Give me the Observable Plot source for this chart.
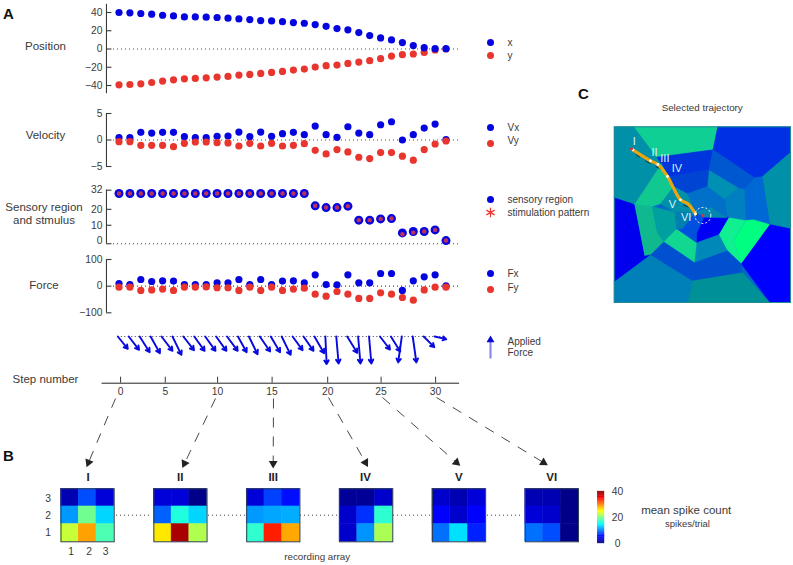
<!DOCTYPE html>
<html><head><meta charset="utf-8">
<script src="https://cdn.jsdelivr.net/npm/d3@7"></script>
<script src="https://cdn.jsdelivr.net/npm/@observablehq/plot@0.6"></script>
<style>
html,body{margin:0;padding:0;background:#fff}
#root{position:relative;width:793px;height:565px;overflow:hidden;font-family:"Liberation Sans",Arial,sans-serif}
</style></head><body><div id="root"></div>
<script>
// ---- Values ----
const posX=[40,39.6,38.9,38.2,37,36.3,35.2,35.2,34.9,34.5,33.8,33,32.3,31.2,30.8,30,29,28.2,26.8,24.9,22.4,21,18,14.7,12.1,9.9,7,3.7,1.5,.4,.4];
const posY=[-39.3,-38.9,-38.2,-36.7,-35.2,-33.8,-32.7,-32.3,-31.6,-30.8,-30.1,-28.6,-27.9,-26.8,-25.7,-24.6,-23.1,-22,-19.8,-18.3,-17.6,-15.8,-14.3,-12.8,-10.6,-7.7,-6.2,-5.5,-3.7,-1.1,0];
const velX=[.44,.44,1.44,1.31,1.44,1.44,.63,.44,.44,.69,.75,1.5,.63,1.5,.69,1.19,1.44,1,2.63,1,.5,2.5,1.31,1,2.88,3.44,0,1,2.25,3,.06];
const velY=[-.31,-.31,-1,-1,-1,-1.25,-.63,-.38,-.38,-.5,-.56,-1.13,-.63,-1.13,-.63,-1.13,-1,-.69,-1.94,-2.63,-1.81,-2.25,-3.25,-3.5,-2.38,-2.38,-3.06,-3.81,-1.81,-.75,-.19];
const region=[29.9,29.9,29.9,29.9,29.9,29.9,29.9,29.9,29.9,29.9,29.9,29.9,29.9,29.9,29.9,29.9,29.9,29.9,22.2,21.1,21.1,22,13.2,13.2,14,14.2,5.2,6.1,6.1,7.1,.4];
const stimulus=[29.9,29.9,29.9,29.9,29.9,29.9,29.9,29.9,29.9,29.9,29.9,29.9,29.9,29.9,29.9,29.9,29.9,29.9,22.2,21.1,21.1,22,13.2,13.2,14,14.2,4.4,5.4,6.1,7.1,.4];
const forceX=[10,6,25,17.5,20,19,6,6,6,12.5,12.5,25,6,25,6,19,20,12.5,42.5,6,5,42.5,12.5,12.5,47.5,47.5,-16,20,35,42.5,1];
const forceY=[-4,-4,-16,-14,-11,-16,-4,-4,-3,-6,-6,-16,-4,-16,-4,-16,-11,-7.5,-30,-37.5,-20,-30,-46,-46,-25,-30,-42.5,-52.5,-14,-4,-4];
const arrowDx=[30,31,30,28,33,27,32,31,31,31,32,26,26,31,28,27,30,30,29,4,7,30,7,7,30,28,-11,11,32,35];
const arrowDy=[37,40,47,50,43,55,41,43,43,43,43,47,53,45,47,55,41,43,50,83,81,49,81,81,39,45,78,78,32,8];
const stepLabels=[0,5,10,15,20,25,30];
const stepTickAt=[0.1,4.2,9,14,19.1,24,29];
const panels=["I","II","III","IV","V","VI"];
// rows: array row 3, 2, 1; columns 1, 2, 3 (spikes/trial)
const heatI  =[2,8,3.5, 11,19.4,13.4, 22.8,28.7,18];
const heatII =[3.5,3.5,.3, 8.8,16.2,13.4, 25.9,38.4,21.9];
const heatIII=[3.5,7.5,5.5, 11,11.5,11.8, 16.9,33.8,28.4];
const heatIV =[1,1,3, 3,6.9,16.8, 3,10.8,21.7];
const heatV  =[3,2,3.5, 5,3,5, 9.4,13.8,6.3];
const heatVI =[2,2,.3, 3.5,3,.3, 9.4,8,.3];
const heats=[heatI,heatII,heatIII,heatIV,heatV,heatVI];
// Sensory map regions: shade + outline
const mapShades=["#0090a8","#10cf94","#0030e4","#0090a8","#0068d4","#0090b4","#0080c0","#0034dc","#0044d4","#0070c8","#0058d0","#0000f4","#10f090","#00ff80","#0000ff","#009098","#0050d0","#0088b8","#0080b8","#0050d0","#0000ee","#10b890","#00a0a0","#10d890","#10c890","#0090a8","#0088b0","#0050e0","#0080b0"];
const mapOutlines=[
[[131,139],[190,139],[258,230],[272,250],[213,340],[192,372],[131,352]],
[[190,139],[441,139],[427,208],[258,230]],
[[441,139],[660,139],[660,215],[575,288],[552,292],[427,208]],
[[660,215],[660,445],[598,432],[575,288]],
[[575,288],[598,432],[548,418],[525,420],[522,325],[552,292]],
[[415,268],[505,322],[462,358],[410,318]],
[[505,322],[522,325],[525,420],[470,412],[462,358]],
[[258,230],[427,208],[415,268],[290,290],[272,250]],
[[290,290],[415,268],[410,318],[350,340],[310,318]],
[[350,340],[410,318],[462,358],[470,412],[420,380],[375,395]],
[[427,208],[552,292],[522,325],[505,322],[415,268]],
[[400,410],[475,410],[445,463],[378,487],[378,458]],
[[475,412],[525,420],[490,480],[512,550],[470,510],[445,463]],
[[525,420],[548,418],[598,432],[512,550],[490,480]],
[[598,432],[660,445],[660,666],[598,666],[512,550]],
[[365,600],[515,575],[598,666],[350,666]],
[[372,545],[470,510],[512,550],[515,575],[365,600]],
[[378,487],[445,463],[470,510],[372,545]],
[[240,522],[365,600],[350,666],[131,666],[131,603]],
[[280,483],[372,545],[365,600],[240,522]],
[[131,352],[192,372],[222,525],[240,522],[131,603]],
[[192,372],[245,378],[260,455],[280,483],[240,522],[222,525]],
[[245,378],[312,395],[318,445],[280,483],[260,455]],
[[318,445],[378,487],[372,545],[280,483]],
[[272,250],[310,318],[270,370],[245,378],[192,372],[213,340]],
[[310,318],[350,340],[375,395],[312,395],[270,370]],
[[420,380],[470,412],[400,410],[375,395]],
[[318,445],[375,395],[400,410],[378,458],[378,487]],
[[312,395],[375,395],[335,445],[318,445]]
];
const trajectory=[[187,208],[240,241],[262,252],[291,288],[310,325],[330,358],[352,370],[375,400]];
const trajectoryMarks=[[187,208],[240,241],[262,252],[291,288],[330,358],[375,400]];
const trajectoryLabels=[["I",191,182],["II",252,215],["III",283,233],["IV",319,265],["V",306,371],["VI",347,410]];

// ---- Layout helper ----
const root=document.getElementById("root");
const W=793,H=565;
const BLUE="#0505e0",RED="#e8352e",INK="#3a3a3a";
function add(opts){
  const svg=Plot.plot(Object.assign({width:W,height:H,marginTop:0,marginBottom:0,marginRight:0,marginLeft:0,
    style:{position:"absolute",left:"0",top:"0",background:"transparent",fontFamily:'"Liberation Sans",Arial,sans-serif',fontSize:"10px",color:INK,maxWidth:"none",overflow:"visible"}},opts));
  root.appendChild(svg);return svg;
}
const xs={domain:[0,30],range:[118.5,445.5]};
function series(arr){return arr.map((v,i)=>({step:i,v}));}
function axisMarks(ticks,labels,bottom,top){
  return [
    Plot.ruleX([-1.15],{y1:bottom,y2:top,stroke:INK,strokeWidth:1.1}),
    Plot.ruleY(ticks,{x1:-1.15,x2:-.65,stroke:INK,strokeWidth:1.1}),
    Plot.axisY({ticks:labels,tickSize:0,tickPadding:4,label:null,fontSize:10.3})
  ];
}
function zero(y0){return Plot.ruleY([y0],{x1:-.5,x2:31.2,stroke:"#444",strokeDasharray:"1 3",strokeWidth:1.1});}
const dots=(arr,fill,r=3.6)=>Plot.dot(series(arr),{x:"step",y:"v",fill,r});

// Position
add({marginLeft:106,x:Object.assign({axis:null},xs),y:{domain:[40,-40],range:[12,85]},marks:[
  ...axisMarks([40,20,0,-20,-40],[40,20,0,-20,-40],-49,49),zero(0),dots(posY,RED),dots(posX,BLUE)]});
// Velocity
add({marginLeft:106,x:Object.assign({axis:null},xs),y:{domain:[5,-5],range:[113,166]},marks:[
  ...axisMarks([5,0,-5],[5,0,-5],-5,5),zero(0),dots(velX,BLUE),dots(velY,RED)]});
// Sensory region and stimulus
add({marginLeft:106,x:Object.assign({axis:null},xs),y:{domain:[32,0],range:[189.7,240.7]},marks:[
  ...axisMarks([32,20,10,-1.6],[32,20,10,0],-1.6,32),zero(-1.6),
  Plot.dot(series(region),{x:"step",y:"v",fill:BLUE,r:4.5}),
  Plot.dot(series(stimulus),{x:"step",y:"v",fill:"#b03068",r:2.2}),
  Plot.dot(series(stimulus),{x:"step",y:"v",symbol:"asterisk",stroke:RED,strokeWidth:.5,strokeOpacity:.5,r:2.2})]});
// Force
add({marginLeft:106,x:Object.assign({axis:null},xs),y:{domain:[100,-100],range:[259,312.3]},marks:[
  ...axisMarks([100,0,-100],[100,0,-100],-100,100),zero(0),dots(forceX,BLUE),dots(forceY,RED)]});
// Applied force arrows
add({x:Object.assign({axis:null},{domain:[0,30],range:[117.3,445]}),y:{axis:null,domain:[0,100],range:[336,436]},marks:[
  Plot.ruleY([0],{x1:0,x2:30,stroke:"#444",strokeDasharray:"1 2.5"}),
  Plot.arrow(arrowDx.map((d,i)=>({i,d,h:arrowDy[i]})),{x1:"i",y1:()=>0,x2:d=>d.i+d.d/3/10.92,y2:d=>d.h/3,stroke:"#0808e0",strokeWidth:1.9,headLength:3.5,headAngle:60,bend:0})
]});
// Step axis
add({x:{axis:null,domain:[0,30],range:[119,446]},y:{axis:null,domain:[0,1],range:[376.7,382.7]},marks:[
  Plot.ruleY([1],{x1:-1.6,x2:31.2,stroke:"#222"}),
  Plot.ruleX(stepTickAt,{y1:0,y2:1,stroke:INK}),
  Plot.text(stepLabels,{x:(d,i)=>stepTickAt[i],y:()=>2.4,text:d=>String(d),fontSize:10.3,fill:INK})
]});
// Heat maps
const heatCells=heats.flatMap((h,p)=>h.map((v,k)=>({panel:panels[p],col:k%3+1,row:3-Math.floor(k/3),v})));
const jet={type:"linear",domain:[0,5,15,25,35,40],range:["#000080","#0000ff","#00ffff","#ffff00","#ff0000","#800000"]};
add({marginLeft:60.5,marginRight:W-578,marginTop:488.3,marginBottom:H-541.3,
  color:jet,
  fx:{domain:panels,paddingInner:.427,paddingOuter:0,align:0,axis:null,round:false},
  x:{domain:[1,2,3],padding:0,axis:null,round:false},y:{domain:[3,2,1],padding:0,axis:null,round:false},
  marks:[
    Plot.cell(heatCells,{fx:"panel",x:"col",y:"row",fill:"v",stroke:"v",strokeWidth:.5,inset:0}),
    Plot.frame({stroke:"#2f3f50",strokeWidth:1})
  ]});
// Colour bar
add({x:{axis:null,domain:[0,1],range:[597.3,604]},y:{domain:[40,0],range:[491,543],axis:null},color:jet,marks:[
  Plot.rect(d3.range(0,40,.5),{x1:()=>0,x2:()=>1,y1:d=>d,y2:d=>d+.5,fill:d=>d+.25,stroke:d=>d+.25,strokeWidth:.3}),
  Plot.text([40,20,0],{x:()=>1,y:d=>d,dx:13,text:d=>String(d),fontSize:10.3,fill:INK})
]});
// Sensory map
const cellsC=mapOutlines.flatMap((o,i)=>o.map(([x,y])=>({i,x,y,c:mapShades[i]})));
add({marginLeft:613.7,marginRight:W-790,marginTop:126.3,marginBottom:H-302,
  x:{axis:null,domain:[131,660]},y:{axis:null,domain:[139,666],reverse:true},marks:[
  Plot.frame({fill:"#0068c8"}),
  Plot.line(cellsC,{x:"x",y:"y",z:"i",fill:"c",stroke:"c",strokeWidth:.4}),
  Plot.frame({stroke:"#208a90",strokeWidth:1}),
  Plot.line(trajectory.map(([x,y])=>({x:x+8,y:y+14})),{x:"x",y:"y",curve:"catmull-rom",stroke:"#15303a",strokeWidth:1,strokeDasharray:"5 7"}),
  Plot.line(trajectory,{x:d=>d[0],y:d=>d[1],curve:"catmull-rom",stroke:"#e8a412",strokeWidth:3.2}),
  Plot.dot(trajectoryMarks,{x:d=>d[0],y:d=>d[1],fill:"#fff",r:1.4}),
  Plot.dot([[183,205],[397,405]],{x:d=>d[0],y:d=>d[1],fill:"#e03040",r:1.6}),
  Plot.dot([[397,405]],{x:d=>d[0],y:d=>d[1],r:8,stroke:"#fff",strokeWidth:1,strokeDasharray:"2 2",fill:"none"}),
  Plot.text(trajectoryLabels,{x:d=>d[1],y:d=>d[2],text:d=>d[0],fill:"#d8f2ff",fontSize:11})
]});
// Annotations
const txt=(list,o={})=>Plot.text(list,{x:d=>d[1],y:d=>d[2],text:d=>d[0],fill:INK,fontSize:11.5,...o});
const guides=[[115,398,88,462],[215,398,184,463],[273,398,272.7,463],[328,397,365,462],[382,397,456,462],[436,397,543,462]];
add({x:{axis:null,domain:[0,W],range:[0,W]},y:{axis:null,domain:[0,H],range:[0,H]},marks:[
  txt([["Position",45,46],["Velocity",45,135],["Sensory region",43.5,207],["and stmulus",43.5,220],["Force",43.5,285],["Step number",45,379]]),
  txt([["A",8,14],["B",8,456],["C",583,94]],{fontWeight:"bold",fontSize:15,fill:"#111"}),
  txt(panels.map((p,i)=>[p,[87.7,179.7,272.7,365,458.3,551.3][i],477]),{fontWeight:"bold",fontSize:11.5,fill:"#222"}),
  txt([["3",47.7,498],["2",47.7,515],["1",47.7,532.7],["1",70.7,551.7],["2",88.7,551.7],["3",105,551.7]],{fontSize:10.3}),
  txt([["recording array",316.7,556.7]],{fontSize:9.8}),
  txt([["mean spike count",685.7,510]],{fontSize:11.5}),
  txt([["spikes/trial",687,523.7]],{fontSize:9.5}),
  txt([["Selected trajectory",701.7,107.7]],{fontSize:9.8}),
  txt([["x",507,42],["y",507,55],["Vx",507,127],["Vy",507,140],["sensory region",507,199],["stimulation pattern",507,212],["Fx",507,273],["Fy",507,287],["Applied",507,341],["Force",507,352]],{textAnchor:"start",fontSize:10}),
  Plot.dot([[490,42],[490,127],[490,199],[490,273]],{x:d=>d[0],y:d=>d[1],fill:BLUE,r:3.5}),
  Plot.dot([[490,55],[490,143],[490,289]],{x:d=>d[0],y:d=>d[1],fill:RED,r:3.5}),
  Plot.dot([[490,212]],{x:d=>d[0],y:d=>d[1],symbol:"asterisk",stroke:RED,strokeWidth:1.2,r:4.5}),
  Plot.link([[490,358,490,340]],{x1:d=>d[0],y1:d=>d[1],x2:d=>d[2],y2:d=>d[3],stroke:"#8a8af0",strokeWidth:2.2}),
  Plot.dot([[490,339.5]],{x:d=>d[0],y:d=>d[1],symbol:"triangle2",fill:"#0808d8",r:3.8}),
  Plot.ruleY([514.7],{x1:116,x2:152,stroke:"#444",strokeDasharray:"1 3"}),
  Plot.ruleY([514.7],{x1:208,x2:245,stroke:"#444",strokeDasharray:"1 3"}),
  Plot.ruleY([514.7],{x1:300,x2:338,stroke:"#444",strokeDasharray:"1 3"}),
  Plot.ruleY([514.7],{x1:393,x2:431,stroke:"#444",strokeDasharray:"1 3"}),
  Plot.ruleY([514.7],{x1:487,x2:522,stroke:"#444",strokeDasharray:"1 3"}),
  Plot.link(guides,{x1:d=>d[0],y1:d=>d[1],x2:d=>d[2],y2:d=>d[3],stroke:"#333",strokeWidth:.9,strokeDasharray:"10 9"}),
  Plot.dot(guides,{x:d=>d[2],y:d=>d[3],symbol:"triangle2",fill:"#222",r:4.2,rotate:d=>Math.atan2(d[2]-d[0],d[1]-d[3])*180/Math.PI})
]});
</script></body></html>
